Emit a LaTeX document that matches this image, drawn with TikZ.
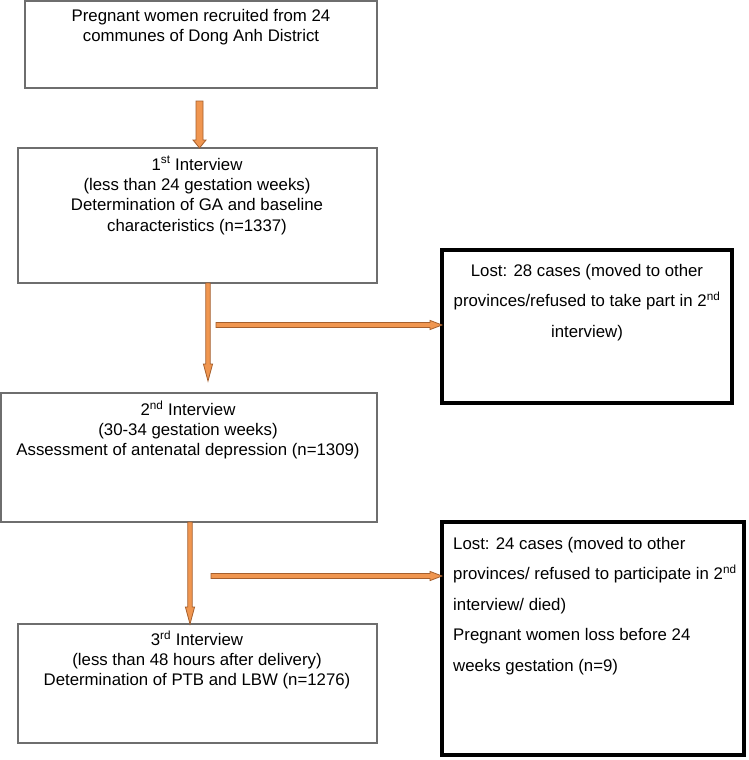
\documentclass[tikz,border=0pt]{standalone}
\usepackage{fontspec}
\setmainfont{Liberation Sans}
\usetikzlibrary{calc}
\definecolor{arrfill}{RGB}{240,150,80}
\definecolor{arrline}{RGB}{165,95,45}
\definecolor{boxgray}{RGB}{110,110,110}
% vertical (downward) block arrow: start, end, half shaft, half head, head length
\newcommand\vblock[5]{\draw[arr] ($(#1)+(-#3,0)$) -- ($(#2)+(-#3,-#5)$) -- ($(#2)+(-#4,-#5)$) -- (#2) -- ($(#2)+(#4,-#5)$) -- ($(#2)+(#3,-#5)$) -- ($(#1)+(#3,0)$) -- cycle;}
% horizontal (rightward) block arrow
\newcommand\hblock[5]{\draw[arr] ($(#1)+(0,-#3)$) -- ($(#2)+(-#5,-#3)$) -- ($(#2)+(-#5,-#4)$) -- (#2) -- ($(#2)+(-#5,#4)$) -- ($(#2)+(-#5,#3)$) -- ($(#1)+(0,#3)$) -- cycle;}
\begin{document}
\begin{tikzpicture}[x=1pt,y=-1pt,
  box/.style={draw=boxgray,line width=1.1pt,inner sep=0,outer sep=0},
  lostbox/.style={draw=black,line width=3.4pt,inner sep=0,outer sep=0},
  txt/.style={align=center,inner sep=0,font=\fontsize{16.8}{20.3}\selectfont},
  losttxt/.style={inner sep=0,font=\fontsize{16.8}{30.5}\selectfont},
  arr/.style={fill=arrfill,draw=arrline,line width=0.8pt,line join=miter}]
\useasboundingbox[fill=white] (0,0) rectangle (748,760);

% boxes
\node[box,minimum width=352,minimum height=87] (b1) at (201,44.5) {};
\node[box,minimum width=359,minimum height=135] (b2) at (197.5,215.5) {};
\node[box,minimum width=376,minimum height=129] (b3) at (189,457.5) {};
\node[box,minimum width=359,minimum height=119] (b4) at (197.5,683.5) {};
\node[lostbox,minimum width=290,minimum height=153] (l1) at (587,326.5) {};
\node[lostbox,minimum width=302,minimum height=233] (l2) at (593,638.5) {};

% texts
\node[txt] (t1) at (201,27) {Pregnant women recruited from 24\\communes of Dong Anh District};
\node[txt] (t2) at (197,195.5) {1\textsuperscript{st} Interview\\(less than 24 gestation weeks)\\Determination of GA and baseline\\characteristics (n=1337)};
\node[txt] (t3) at (188,430) {2\textsuperscript{nd} Interview\\(30-34 gestation weeks)\\Assessment of antenatal depression (n=1309)};
\node[txt] (t4) at (197,660) {3\textsuperscript{rd} Interview\\(less than 48 hours after delivery)\\Determination of PTB and LBW (n=1276)};
\node[losttxt,align=center] (tl1) at (587,302.5) {Lost: 28 cases (moved to other\\provinces/refused to take part in 2\textsuperscript{nd}\\interview)};
\node[losttxt,align=left,anchor=west] (tl2) at (453,606) {Lost: 24 cases (moved to other\\provinces/ refused to participate in 2\textsuperscript{nd}\\interview/ died)\\Pregnant women loss before 24\\weeks gestation (n=9)};

% connector end points
\coordinate (a1s) at (199.5,101);
\coordinate (a1e) at (b2.north -| a1s);
\coordinate (a2s) at (208,283);
\coordinate (a2e) at (208,381);
\coordinate (h1s) at (216,325);
\coordinate (h1e) at (l1.west |- h1s);
\coordinate (a3s) at (190,522);
\coordinate (a3e) at (b4.north -| a3s);
\coordinate (h2s) at (211,576);
\coordinate (h2e) at (l2.west |- h2s);

% arrows
\vblock{a1s}{a1e}{3.5}{6.5}{8}
\vblock{a2s}{a2e}{2.2}{4.6}{17}
\hblock{h1s}{h1e}{2.5}{4.6}{12}
\vblock{a3s}{a3e}{2.2}{4.6}{17}
\hblock{h2s}{h2e}{2.5}{4.6}{12}
\end{tikzpicture}
\end{document}
